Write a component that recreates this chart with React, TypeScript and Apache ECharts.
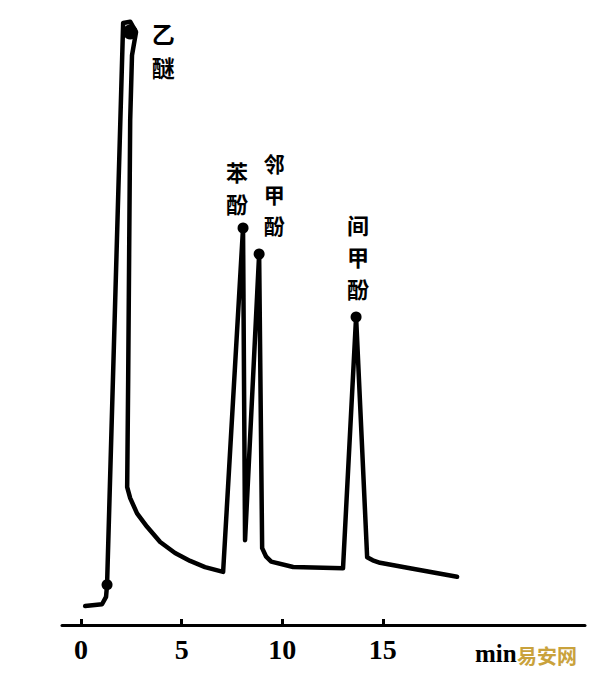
import React, { useEffect, useRef } from "react";
import * as echarts from "echarts";

// Chromatogram trace: [time (min), detector response (relative)]
const traceTime = [0.2, 1.04, 1.24, 1.29, 2.09, 2.44, 2.73, 2.53, 2.44, 2.34, 2.29, 2.44, 2.78, 3.28, 3.93, 4.67, 5.42, 6.16, 7.06, 8.05, 8.15, 8.85, 9.0, 9.2, 9.45, 10.54, 13.02, 13.67, 14.22, 14.5, 14.86, 16.35, 18.69];
const traceSignal = [3.1, 3.4, 4.6, 6.6, 98.7, 98.9, 97.2, 93.4, 82.8, 40.2, 22.6, 20.8, 18.3, 16.1, 13.6, 11.8, 10.5, 9.5, 8.7, 65.1, 13.9, 60.8, 12.6, 11.2, 10.4, 9.5, 9.3, 50.5, 11.1, 10.6, 10.2, 9.3, 7.9];

// Marked points: injection and peak apices
const peakNames = ["", "乙\n醚", "苯\n酚", "邻\n甲\n酚", "间\n甲\n酚"];
const peakTime = [1.29, 2.44, 8.05, 8.85, 13.67];
const peakSignal = [6.6, 97.2, 65.1, 60.8, 50.5];

const xTicks = [0, 5, 10, 15];

export default function App() {
  const ref = useRef<HTMLDivElement>(null);
  useEffect(() => {
    document.body.style.margin = "0";
    const chart = echarts.init(ref.current!, undefined, { renderer: "svg" });
    const labelCfg = [
      null,
      { offset: [33, 18], fontSize: 23, lineHeight: 34 },
      { offset: [-6, -41], fontSize: 22, lineHeight: 32 },
      { offset: [15, -60], fontSize: 21, lineHeight: 31 },
      { offset: [2, -61], fontSize: 22, lineHeight: 32 },
    ];
    chart.setOption({
      animation: false,
      backgroundColor: "#ffffff",
      grid: { left: 62, right: 15, top: 15, bottom: 63 },
      xAxis: {
        type: "value",
        min: -0.95,
        max: 25.05,
        splitLine: { show: false },
        axisLine: { lineStyle: { color: "#000", width: 3 } },
        axisTick: {
          show: true,
          inside: true,
          length: 6,
          customValues: xTicks,
          lineStyle: { color: "#000", width: 3 },
        },
        axisLabel: {
          customValues: xTicks,
          color: "#000",
          fontFamily: "Liberation Serif",
          fontWeight: "bold",
          fontSize: 28,
          margin: 10,
        },
      },
      yAxis: { type: "value", min: 0, max: 100, show: false },
      series: [
        {
          type: "line",
          data: traceTime.map((t, i) => [t, traceSignal[i]]),
          symbol: "none",
          lineStyle: { color: "#000", width: 4.5, cap: "round", join: "round" },
        },
        {
          type: "scatter",
          data: peakTime.map((t, i) => {
            const cfg = labelCfg[i];
            return {
              value: [t, peakSignal[i]],
              symbolSize: i === 1 ? 15 : 11,
              label: cfg
                ? {
                    show: true,
                    position: "inside",
                    formatter: peakNames[i],
                    offset: cfg.offset,
                    fontSize: cfg.fontSize,
                    lineHeight: cfg.lineHeight,
                    align: "center",
                    verticalAlign: "middle",
                    color: "#000",
                    fontWeight: "bold",
                    fontFamily: "Noto Sans CJK SC",
                  }
                : { show: false },
            };
          }),
          itemStyle: { color: "#000", opacity: 1 },
        },
      ],
      graphic: [
        {
          type: "text",
          left: 475,
          top: 641,
          style: {
            text: "min",
            fill: "#000",
            font: "bold 25px 'Liberation Serif'",
          },
        },
        {
          type: "text",
          left: 517,
          top: 645,
          style: {
            text: "易安网",
            fill: "#c9a23c",
            font: "bold 20px 'Noto Sans CJK SC'",
          },
        },
      ],
    });
    return () => chart.dispose();
  }, []);
  return <div ref={ref} style={{ width: 600, height: 688 }} />;
}
